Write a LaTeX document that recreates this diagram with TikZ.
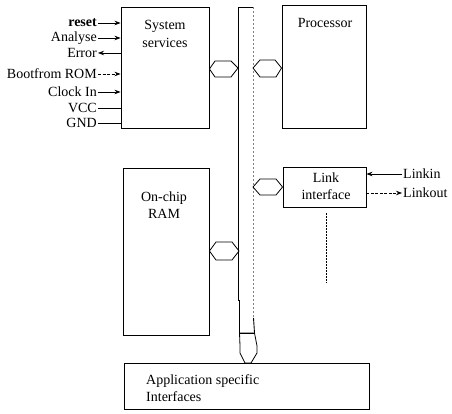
\documentclass[tikz,border=0pt]{standalone}
\usepackage{fontspec}
\setmainfont{Liberation Serif}
\usetikzlibrary{arrows.meta}
\begin{document}
\begin{tikzpicture}[x=1pt,y=-1pt,
  font=\fontsize{14}{17.5}\selectfont,
  box/.style={draw, line width=0.9pt, inner sep=0pt},
  lbl/.style={inner sep=1pt},
  txt/.style={inner sep=0pt, align=center},
  arr/.style={line width=0.7pt, -{Stealth[length=6pt,width=4.5pt]}},
  plain/.style={line width=0.7pt},
  hexa/.style={line width=0.8pt, line join=round},
  busl/.style={line width=0.9pt},
  busr/.style={line width=0.6pt, gray, dash pattern=on 2pt off 2pt}]
\useasboundingbox (0,0) rectangle (452,414);

% boxes
\node[box, minimum width=88pt, minimum height=120.5pt] (sys) at (165,67.75) {};
\node[box, minimum width=84pt, minimum height=123pt] (proc) at (324,66.5) {};
\node[box, minimum width=83pt, minimum height=40pt] (link) at (324.5,187) {};
\node[box, minimum width=86pt, minimum height=167pt] (ram) at (166,251.5) {};
\node[box, minimum width=245pt, minimum height=46pt] (app) at (246.5,386) {};

% box texts
\node[txt] (tsys) at (165,34) {System\\services};
\node[txt] (tproc) at (325,23) {Processor};
\node[txt] (tlink) at (326,186) {Link\\interface};
\node[txt] (tram) at (164,205) {On-chip\\RAM};
\node[txt, align=left, anchor=west] (tapp) at (146,388) {Application specific\\Interfaces};

% left labels
\node[lbl, anchor=east] (l1) at (98,23) {\textbf{reset}};
\node[lbl, anchor=east] (l2) at (98,38) {Analyse};
\node[lbl, anchor=east] (l3) at (98,53) {Error};
\node[lbl, anchor=east] (l4) at (98,74) {Bootfrom ROM};
\node[lbl, anchor=east] (l5) at (98,92) {Clock In};
\node[lbl, anchor=east] (l6) at (98,108) {VCC};
\node[lbl, anchor=east] (l7) at (98,123) {GND};
\draw[arr] (l1.east) -- (l1.east -| sys.west);
\draw[arr] (l2.east) -- (l2.east -| sys.west);
\draw[arr] (l3.east -| sys.west) -- (l3.east);
\draw[arr, dash pattern=on 3pt off 1.5pt] (l4.east) -- (l4.east -| sys.west);
\draw[arr] (l5.east) -- (l5.east -| sys.west);
\draw[plain] (l6.east) -- (l6.east -| sys.west);
\draw[plain] (l7.east) -- (l7.east -| sys.west);

% link labels
\node[lbl, anchor=west] (lin) at (402,174) {Linkin};
\node[lbl, anchor=west] (lout) at (402,193) {Linkout};
\draw[arr] (lin.west) -- (lin.west -| link.east);
\draw[arr, dash pattern=on 3pt off 1.5pt] (lout.west -| link.east) -- (lout.west);

% bus
\coordinate (btl) at (238,7);
\coordinate (btr) at (253,7);
\coordinate (bbl) at (239.5,333);
\coordinate (bbr) at (254.5,333);
\draw[busl] (bbl) -- (239.5,300) -- (238,300) -- (btl) -- (btr);
\draw[busr] (btr) -- (253,318);
\draw[busl] (253.5,318) -- (bbr);
\draw[busl] (bbl) -- (bbr);

% hexagons
\draw[hexa] (sys.east |- 0,69) -- (215,61) -- (231,61) -- (238,68) -- (231,77) -- (215,77) -- cycle;
\draw[hexa] (253,68) -- (260,60) -- (275,60) -- (proc.west |- 0,68) -- (276,77) -- (260,77) -- cycle;
\draw[hexa] (253,187) -- (260,179) -- (276,179) -- (link.west |- 0,187) -- (276,195) -- (260,195) -- cycle;
\draw[hexa] (ram.east |- 0,251) -- (216,242) -- (232,242) -- (239,251) -- (232,260) -- (216,260) -- cycle;
\draw[hexa] (bbl) -- (bbr) -- (257,346) -- (257,353) -- (251,363) -- (245,363) -- (240,353) -- (240,346) -- cycle;

% dotted line below link
\coordinate (dl) at (326,283);
\draw[line width=0.9pt, dash pattern=on 1.5pt off 1.5pt] (link.south -| dl) ++(0,6) -- (dl);
\end{tikzpicture}
\end{document}
